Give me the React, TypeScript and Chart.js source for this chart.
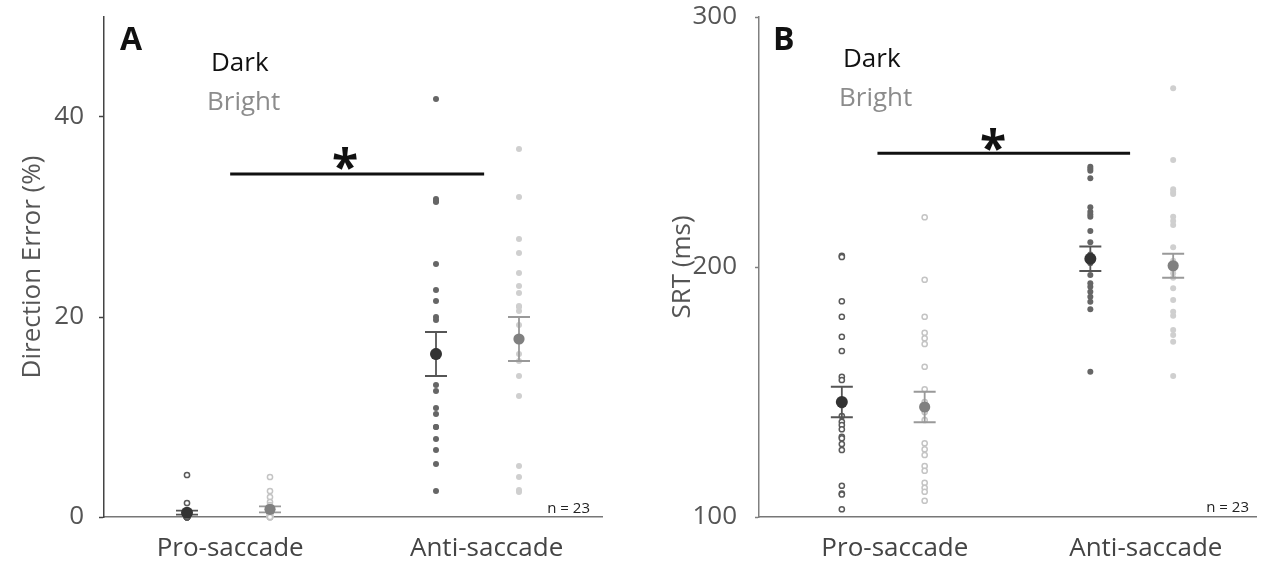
import React, { useEffect, useRef } from 'react';
import { Chart, registerables } from 'chart.js';
Chart.register(...registerables);

const FONT = "'Open Sans', 'DejaVu Sans', sans-serif";

const tasks = ['Pro-saccade', 'Anti-saccade'];
const conditions = ['Dark', 'Bright'];

// Panel A: Direction error (%)
const errProDark = [4.2, 1.4, 0.6, 0.5, 0.4, 0.3, 0.3, 0.2, 0.2, 0.1, 0.1, 0, 0, 0, 0, 0, 0, 0, 0, 0, 0, 0, 0];
const errProBright = [4.0, 2.6, 2.0, 1.5, 1.2, 1.0, 0.8, 0.6, 0.5, 0.4, 0.3, 0.3, 0.2, 0.2, 0.1, 0.1, 0, 0, 0, 0, 0, 0, 0];
const errAntiDark = [41.8, 31.8, 31.5, 25.3, 22.7, 21.6, 20.0, 19.7, 16.4, 16.2, 13.2, 12.6, 10.9, 10.3, 9.0, 7.8, 6.7, 5.3, 2.6, 16.0, 16.6, 31.6, 9.0];
const errAntiBright = [36.8, 32.0, 27.8, 26.4, 24.4, 23.1, 22.4, 21.1, 20.6, 19.2, 17.9, 17.6, 16.3, 15.6, 14.1, 12.1, 5.1, 4.0, 2.7, 2.5, 21.0, 17.7, 18.0];
const errMeans = [0.43, 0.77, 16.3, 17.8];
const errSem = [0.2, 0.3, 2.2, 2.2];
const errTicks = [0, 20, 40];
const errSigLevel = 34.3;

// Panel B: SRT (ms)
const srtProDark = [204.5, 204.0, 186.3, 180.1, 172.1, 166.4, 156.1, 154.8, 146.5, 145.5, 144.8, 140.4, 138.1, 136.8, 135.1, 132.1, 131.5, 129.2, 126.8, 112.5, 109.4, 109.0, 103.1];
const srtProBright = [219.9, 194.9, 180.1, 173.7, 171.5, 169.2, 160.1, 151.1, 145.0, 144.0, 143.0, 138.8, 129.5, 127.1, 124.8, 120.4, 118.5, 113.7, 111.7, 110.1, 106.5, 142.0, 146.0];
const srtAntiDark = [240.1, 238.5, 235.5, 223.9, 222.1, 220.1, 214.4, 209.9, 204.0, 203.0, 202.5, 196.8, 193.5, 192.1, 190.1, 188.1, 186.1, 183.1, 158.1, 239.3, 221.0, 201.5, 205.0];
const srtAntiBright = [271.5, 242.8, 231.1, 229.2, 220.1, 218.4, 216.8, 207.9, 201.5, 200.0, 199.0, 195.7, 191.5, 186.8, 182.1, 180.5, 174.8, 172.8, 170.1, 156.4, 202.5, 197.5, 230.0];
const srtMeans = [146.0, 144.0, 203.3, 200.5];
const srtSem = [6.1, 6.1, 4.9, 4.8];
const srtTicks = [100, 200, 300];
const srtSigLevel = 245.5;

// group slots on the x axis: pro-dark, pro-bright, anti-dark, anti-bright
const GROUP_X = [1, 2, 4, 5];

type Panel = {
  letter: string;
  groups: number[][];
  means: number[];
  sem: number[];
  ticks: number[];
  min: number;
  max: number;
  title: string;
  sig: number;
  sigFrom: number;
  sigTo: number;
  labelPos: number[];
  yWidth: number;
  padRight: number;
  titlePad: number;
  yBorder: string;
  tickLen: number;
  tickPad: number;
  txt: { letter: [number, number]; dark: [number, number]; bright: [number, number]; n: [number, number]; star: [number, number] };
};

const panelA: Panel = {
  letter: 'A',
  groups: [errProDark, errProBright, errAntiDark, errAntiBright],
  means: errMeans, sem: errSem, ticks: errTicks, min: 0, max: 50,
  title: 'Direction Error (%)', sig: errSigLevel, sigFrom: 1.52, sigTo: 4.58,
  labelPos: [1.52, 4.61], yWidth: 104, padRight: 29, titlePad: 17, yBorder: '#444',
  tickLen: 5, tickPad: 15,
  txt: { letter: [120, 50], dark: [211, 71], bright: [207, 110], n: [590, 513], star: [345, 155] },
};

const panelB: Panel = {
  letter: 'B',
  groups: [srtProDark, srtProBright, srtAntiDark, srtAntiBright],
  means: srtMeans, sem: srtSem, ticks: srtTicks, min: 100, max: 300,
  title: 'SRT (ms)', sig: srtSigLevel, sigFrom: 1.43, sigTo: 4.48,
  labelPos: [1.64, 4.67], yWidth: 128, padRight: 4, titlePad: 36, yBorder: '#808080',
  tickLen: 4, tickPad: 18,
  txt: { letter: [142, 50], dark: [212, 67], bright: [208, 106], n: [618, 512], star: [362, 136] },
};

function buildConfig(p: Panel): any {
  const pts = (arr: number[], gx: number) => arr.map((v) => ({ x: gx, y: v }));
  const styles = [
    { backgroundColor: '#ffffff', borderColor: '#5a5a5a', radius: 2.6, borderWidth: 1.5 },
    { backgroundColor: '#ffffff', borderColor: '#c4c4c4', radius: 2.6, borderWidth: 1.5 },
    { backgroundColor: '#666666', borderColor: '#666666', radius: 3, borderWidth: 0 },
    { backgroundColor: '#cfcfcf', borderColor: '#cfcfcf', radius: 3, borderWidth: 0 },
  ];
  const datasets: any[] = p.groups.map((g, i) => ({
    label: conditions[i % 2] + ' ' + tasks[Math.floor(i / 2)],
    data: pts(g, GROUP_X[i]),
    pointRadius: styles[i].radius,
    pointBackgroundColor: styles[i].backgroundColor,
    pointBorderColor: styles[i].borderColor,
    pointBorderWidth: styles[i].borderWidth,
    showLine: false,
    clip: false,
    order: 5 - i,
  }));
  datasets.push({
    label: 'sig',
    data: [{ x: p.sigFrom, y: p.sig }, { x: p.sigTo, y: p.sig }],
    showLine: true,
    borderColor: '#111',
    borderWidth: 3,
    pointRadius: 0,
    clip: false,
    order: 1,
  });
  datasets.push({
    label: 'means',
    data: p.means.map((m, i) => ({ x: GROUP_X[i], y: m })),
    pointRadius: p.means.map((_, i) => (i % 2 === 0 ? 6 : 5.6)),
    pointBackgroundColor: p.means.map((_, i) => (i % 2 === 0 ? '#333333' : '#808080')),
    pointBorderWidth: 0,
    showLine: false,
    clip: false,
    order: 0,
  });

  const plugin = {
    id: 'annot' + p.letter,
    beforeDatasetDraw(chart: any, args: any) {
      if (args.index !== 5) return;
      const { ctx } = chart;
      const xs = chart.scales.x;
      const ys = chart.scales.y;
      p.means.forEach((m, i) => {
        const px = xs.getPixelForValue(GROUP_X[i]);
        const top = ys.getPixelForValue(m + p.sem[i]);
        const bot = ys.getPixelForValue(m - p.sem[i]);
        ctx.save();
        ctx.strokeStyle = i % 2 === 0 ? '#555' : '#999';
        ctx.lineWidth = 1.8;
        ctx.beginPath();
        ctx.moveTo(px, top); ctx.lineTo(px, bot);
        ctx.moveTo(px - 11, top); ctx.lineTo(px + 11, top);
        ctx.moveTo(px - 11, bot); ctx.lineTo(px + 11, bot);
        ctx.stroke();
        ctx.restore();
      });
    },
    afterDraw(chart: any) {
      const { ctx } = chart;
      const t = p.txt;
      ctx.save();
      ctx.textBaseline = 'alphabetic';
      ctx.textAlign = 'left';
      ctx.fillStyle = '#111';
      ctx.font = `bold 32px ${FONT}`;
      ctx.fillText(p.letter, t.letter[0], t.letter[1]);
      ctx.font = `26px ${FONT}`;
      ctx.fillStyle = '#111';
      ctx.fillText(conditions[0], t.dark[0], t.dark[1]);
      ctx.fillStyle = '#8c8c8c';
      ctx.fillText(conditions[1], t.bright[0], t.bright[1]);
      ctx.fillStyle = '#222';
      ctx.font = `15px ${FONT}`;
      ctx.textAlign = 'right';
      ctx.fillText('n = 23', t.n[0], t.n[1]);
      ctx.fillStyle = '#111';
      ctx.font = `bold 48px ${FONT}`;
      ctx.textAlign = 'center';
      ctx.fillText('*', t.star[0], t.star[1] + 29);
      ctx.restore();
    },
  };

  return {
    type: 'scatter',
    data: { datasets },
    plugins: [plugin],
    options: {
      animation: false,
      responsive: true,
      maintainAspectRatio: false,
      events: [],
      layout: { padding: { left: 0, right: p.padRight, top: 17, bottom: 0 } },
      plugins: { legend: { display: false }, tooltip: { enabled: false } },
      scales: {
        x: {
          type: 'linear',
          min: 0,
          max: 6,
          afterBuildTicks: (s: any) => { s.ticks = p.labelPos.map((v) => ({ value: v })); },
          afterFit: (s: any) => { s.height = 48; s.paddingLeft = 0; s.paddingRight = 0; },
          ticks: {
            callback: (_v: any, i: number) => tasks[i],
            color: '#444',
            font: { family: FONT, size: 26 },
            padding: 16,
            autoSkip: false,
            maxRotation: 0,
          },
          grid: { drawOnChartArea: false, drawTicks: false },
          border: { color: '#777', width: 1.5 },
        },
        y: {
          type: 'linear',
          min: p.min,
          max: p.max,
          afterBuildTicks: (s: any) => { s.ticks = p.ticks.map((v) => ({ value: v })); },
          afterFit: (s: any) => { s.width = p.yWidth; s.paddingTop = 0; s.paddingBottom = 0; },
          ticks: {
            color: '#555',
            font: { family: FONT, size: 26 },
            padding: p.tickPad,
          },
          grid: { drawOnChartArea: false, drawTicks: true, tickLength: p.tickLen, tickColor: p.yBorder, tickWidth: 1.5 },
          border: { color: p.yBorder, width: 1.5 },
          title: {
            display: true,
            text: p.title,
            color: '#555',
            font: { family: FONT, size: 26 },
            padding: { top: p.titlePad, bottom: 0 },
          },
        },
      },
    },
  };
}

export default function App() {
  const refA = useRef<HTMLCanvasElement | null>(null);
  const refB = useRef<HTMLCanvasElement | null>(null);
  useEffect(() => {
    const a = new Chart(refA.current as HTMLCanvasElement, buildConfig(panelA));
    const b = new Chart(refB.current as HTMLCanvasElement, buildConfig(panelB));
    return () => { a.destroy(); b.destroy(); };
  }, []);
  return (
    <div style={{ position: 'absolute', left: 0, top: 0, width: 1262, height: 565, background: '#fff' }}>
      <div style={{ position: 'absolute', left: 0, top: 0, width: 631, height: 565 }}>
        <canvas ref={refA} />
      </div>
      <div style={{ position: 'absolute', left: 631, top: 0, width: 631, height: 565 }}>
        <canvas ref={refB} />
      </div>
    </div>
  );
}
